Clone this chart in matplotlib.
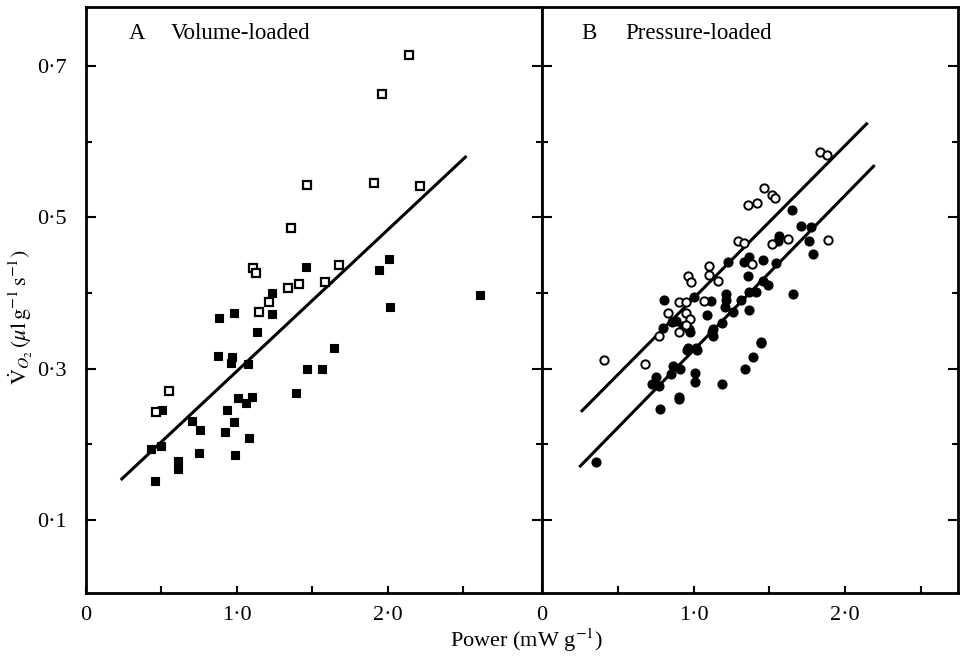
import matplotlib
matplotlib.use("Agg")
import matplotlib.pyplot as plt
from matplotlib.ticker import FixedLocator, FixedFormatter

plt.rcParams['font.family'] = ['Liberation Serif', 'DejaVu Serif']
plt.rcParams['mathtext.fontset'] = 'stix'

# ---------------- Panel A: Volume-loaded ----------------
a_open_x = [2.14, 1.96, 1.466, 1.905, 2.21, 1.36, 1.104, 1.124, 1.338, 1.41, 1.583, 1.673,
            1.212, 1.148, 0.552, 0.464]
a_open_y = [0.714, 0.663, 0.543, 0.545, 0.541, 0.486, 0.433, 0.427, 0.406, 0.412, 0.414, 0.437,
            0.388, 0.375, 0.271, 0.243]
a_fill_x = [1.455, 1.94, 2.009, 2.61, 1.23, 2.015, 1.23, 0.982, 0.883, 1.130, 1.64, 0.874,
            0.965, 0.958, 1.075, 1.461, 1.56, 1.393, 0.501, 0.704, 0.755, 1.009, 1.060, 1.101,
            0.932, 0.980, 0.922, 1.079, 0.989, 0.746, 0.609, 0.609, 0.428, 0.499, 0.459]
a_fill_y = [0.434, 0.430, 0.445, 0.398, 0.400, 0.381, 0.372, 0.373, 0.367, 0.348, 0.328, 0.317,
            0.316, 0.308, 0.306, 0.299, 0.300, 0.268, 0.246, 0.231, 0.219, 0.261, 0.255, 0.263,
            0.246, 0.230, 0.217, 0.209, 0.186, 0.188, 0.178, 0.168, 0.194, 0.198, 0.152]
a_line_x = [0.23, 2.52]
a_line_y = [0.153, 0.581]

# ---------------- Panel B: Pressure-loaded ----------------
b_open_x = [1.837, 1.879, 1.463, 1.516, 1.536, 1.362, 1.421, 1.296, 1.331, 1.516, 1.621, 1.888,
            1.384, 1.104, 1.104, 1.164, 0.961, 0.983, 0.906, 0.950, 0.829, 1.069, 0.950, 0.979,
            0.902, 0.950, 0.774, 0.407, 0.677]
b_open_y = [0.587, 0.583, 0.539, 0.530, 0.525, 0.516, 0.519, 0.469, 0.466, 0.465, 0.471, 0.470,
            0.439, 0.436, 0.424, 0.416, 0.422, 0.414, 0.388, 0.388, 0.373, 0.390, 0.374, 0.366,
            0.349, 0.358, 0.343, 0.311, 0.306]
b_fill_x = [1.650, 1.712, 1.776, 1.764, 1.786, 1.566, 1.555, 1.545, 1.461, 1.364, 1.333, 1.230,
            1.362, 1.456, 1.489, 1.364, 1.412, 1.313, 1.214, 1.214, 1.205, 1.258, 1.364, 1.659,
            1.115, 1.086, 1.001, 1.188, 1.126, 1.126, 1.445, 0.961, 1.016, 0.807, 0.884, 0.972,
            0.796, 1.447, 1.390, 1.337, 1.186, 1.007, 1.007, 0.906, 0.906, 0.781, 0.752, 0.726,
            0.774, 0.867, 0.851, 0.911, 0.957, 1.020, 1.122, 0.356, 0.977, 0.930, 0.860]
b_fill_y = [0.510, 0.488, 0.487, 0.469, 0.452, 0.475, 0.469, 0.440, 0.444, 0.448, 0.441, 0.441,
            0.423, 0.416, 0.411, 0.402, 0.401, 0.391, 0.399, 0.391, 0.382, 0.375, 0.377, 0.399,
            0.390, 0.371, 0.395, 0.361, 0.352, 0.343, 0.335, 0.327, 0.327, 0.391, 0.363, 0.352,
            0.354, 0.334, 0.316, 0.300, 0.280, 0.294, 0.283, 0.263, 0.260, 0.247, 0.289, 0.280,
            0.277, 0.304, 0.293, 0.300, 0.325, 0.325, 0.349, 0.177, 0.348, 0.357, 0.362]
b_line1_x = [0.257, 2.149]
b_line1_y = [0.243, 0.625]
b_line2_x = [0.246, 2.195]
b_line2_y = [0.170, 0.569]

y_major = [0.1, 0.3, 0.5, 0.7]
y_major_labels = ['0·1', '0·3', '0·5', '0·7']
y_minor = [0.2, 0.4, 0.6]
x_ticks = [0, 0.5, 1.0, 1.5, 2.0, 2.5]
x_tick_labels = ['0', '', '1·0', '', '2·0', '']

fig = plt.figure(figsize=(9.61, 6.62), dpi=100)
bottom = 0.1035
height = 0.886
axA = fig.add_axes([86 / 961, bottom, 456 / 961, height])
axB = fig.add_axes([542 / 961, bottom, 416 / 961, height])

axA.set_xlim(0, 3.02)
axB.set_xlim(0, 2.745)
for ax in (axA, axB):
    ax.set_ylim(0.003, 0.778)
    for s in ax.spines.values():
        s.set_linewidth(2.0)
    ax.xaxis.set_major_locator(FixedLocator(x_ticks))
    ax.xaxis.set_major_formatter(FixedFormatter(x_tick_labels))
    ax.yaxis.set_major_locator(FixedLocator(y_major))
    ax.yaxis.set_minor_locator(FixedLocator(y_minor))
    ax.tick_params(axis='both', which='both', direction='in', width=1.5,
                   left=True, right=True, top=False, bottom=True)
    ax.tick_params(axis='y', which='major', length=7)
    ax.tick_params(axis='y', which='minor', length=4)
    ax.tick_params(axis='x', which='major', length=5, labelsize=16, pad=9)

axA.yaxis.set_major_formatter(FixedFormatter(y_major_labels))
axA.tick_params(axis='y', labelsize=16, pad=14, labelleft=True)
axB.tick_params(axis='y', labelleft=False)

# Panel A
axA.plot(a_line_x, a_line_y, color='black', lw=2.2, solid_capstyle='butt')
axA.plot(a_fill_x, a_fill_y, linestyle='none', marker='s', ms=6.2,
         mfc='black', mec='black', mew=0.8)
axA.plot(a_open_x, a_open_y, linestyle='none', marker='s', ms=5.5,
         mfc='white', mec='black', mew=1.6)
axA.text(0.093, 0.955, 'A', transform=axA.transAxes, fontsize=16.5, va='center')
axA.text(0.185, 0.955, 'Volume-loaded', transform=axA.transAxes, fontsize=16.5, va='center')

# Panel B
axB.plot(b_line1_x, b_line1_y, color='black', lw=2.2, solid_capstyle='butt')
axB.plot(b_line2_x, b_line2_y, color='black', lw=2.2, solid_capstyle='butt')
axB.plot(b_fill_x, b_fill_y, linestyle='none', marker='o', ms=6.5,
         mfc='black', mec='black', mew=0.8)
axB.plot(b_open_x, b_open_y, linestyle='none', marker='o', ms=6.0,
         mfc='white', mec='black', mew=1.4)
axB.text(0.095, 0.955, 'B', transform=axB.transAxes, fontsize=16.5, va='center')
axB.text(0.2, 0.955, 'Pressure-loaded', transform=axB.transAxes, fontsize=16.5, va='center')

fig.text(527 / 961, 1 - 640 / 662, r'Power (mW g$^{-1}$)', ha='center', va='center', fontsize=16)
fig.text(21 / 961, 1 - 317 / 662,
         r'$\dot{\mathrm{V}}_{O_2}\,(\mu\mathrm{l\,g^{-1}\,s^{-1}})$',
         ha='center', va='center', rotation=90, fontsize=16)

fig.savefig('out.png', dpi=100)
